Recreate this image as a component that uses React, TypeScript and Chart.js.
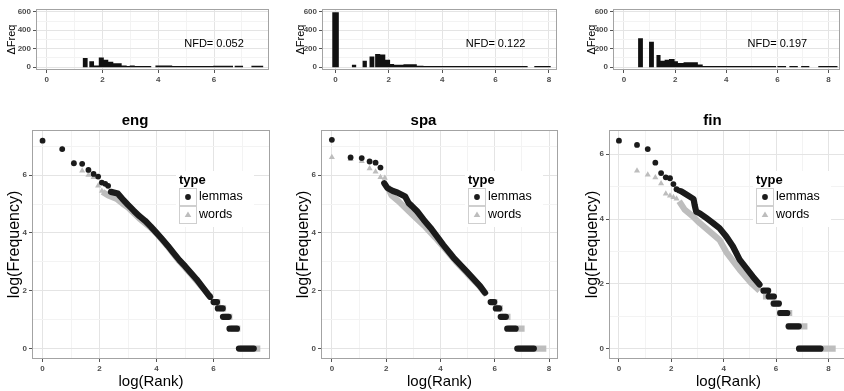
import React, { useEffect, useRef } from "react";
import { Chart, registerables } from "chart.js";

Chart.register(...registerables);

const FONT = "'Liberation Sans', Arial, Helvetica, sans-serif";
Chart.defaults.font.family = FONT;

// ---------------- tick values ----------------
const rankTicks = [0, 1, 2, 3, 4, 5, 6, 7, 8];
const freqTicks = [0, 1, 2, 3, 4, 5, 6, 7];
const deltaTicks = [0, 100, 200, 300, 400, 500, 600];

// ---------------- labels ----------------
const languages = ["eng", "spa", "fin"];
const nfdLabels = ["NFD= 0.052", "NFD= 0.122", "NFD= 0.197"];
const seriesNames = ["lemmas", "words"];
const legendTitle = "type";

// ---------------- top panels: ΔFreq bins (start, end, height) ----------------
const engBinStart = [1.29, 1.53, 1.7, 1.87, 2.05, 2.21, 2.39, 2.69, 2.87, 2.98, 3.16, 3.9, 4.5, 5.1, 5.97, 6.74, 7.34];
const engBinEnd = [1.47, 1.7, 1.87, 2.05, 2.21, 2.39, 2.69, 2.87, 2.98, 3.16, 3.75, 4.5, 5.1, 5.97, 6.68, 7.04, 7.77];
const engDelta = [100, 66, 20, 106, 80, 58, 42, 18, 12, 20, 12, 18, 14, 14, 16, 16, 16];

const spaBinStart = [-0.12, 0.62, 1.02, 1.28, 1.49, 1.68, 1.87, 2.05, 2.2, 2.55, 3.05, 3.3, 4.17, 5.3, 7.45];
const spaBinEnd = [0.13, 0.78, 1.18, 1.46, 1.68, 1.87, 2.05, 2.2, 2.55, 3.05, 3.3, 4.17, 5.3, 7.2, 8.07];
const spaDelta = [595, 28, 71, 117, 142, 137, 82, 36, 26, 32, 17, 14, 14, 14, 14];

const finBinStart = [0.55, 0.98, 1.27, 1.43, 1.59, 1.76, 1.98, 2.11, 2.33, 2.89, 3.08, 3.86, 5.0, 6.0, 6.47, 6.93, 7.6];
const finBinEnd = [0.74, 1.17, 1.43, 1.59, 1.76, 1.98, 2.11, 2.33, 2.89, 3.08, 3.86, 5.0, 5.95, 6.34, 6.8, 7.25, 8.36];
const finDelta = [313, 277, 132, 71, 82, 89, 64, 47, 55, 29, 14, 14, 14, 14, 14, 14, 14];

// ---------------- bottom panels: log(Rank) vs log(Frequency) ----------------
// isolated points
const engLemmaX = [0, 0.69, 1.1, 1.39, 1.61, 1.79, 1.95, 2.08, 2.2, 2.3];
const engLemmaY = [7.19, 6.9, 6.41, 6.39, 6.18, 6.04, 5.95, 5.74, 5.7, 5.63];
const engWordX = [0, 0.69, 1.1, 1.39, 1.61, 1.79, 1.95, 2.08];
const engWordY = [7.19, 6.9, 6.41, 6.15, 6.0, 5.93, 5.63, 5.45];
// dense runs of points (null = break)
const engLemmaRunX = [2.4, 2.64, 2.8, 3.0, 3.2, 3.4, 3.6, 3.8, 4.0, 4.2, 4.4, 4.6, 4.8, 5.0, 5.2, 5.4, 5.6, 5.8, 5.88, null, 6.0, 6.12, null, 6.15, 6.32, null, 6.33, 6.53, null, 6.56, 6.82, null, 6.89, 7.41];
const engLemmaRunY = [5.42, 5.36, 5.18, 4.97, 4.77, 4.58, 4.42, 4.22, 4.0, 3.78, 3.55, 3.3, 3.06, 2.85, 2.62, 2.4, 2.14, 1.88, 1.79, null, 1.61, 1.61, null, 1.39, 1.39, null, 1.1, 1.1, null, 0.69, 0.69, null, 0, 0];
const engWordRunX = [2.1, 2.3, 2.6, 2.8, 3.0, 3.4, 3.8, 4.0, 4.4, 4.8, 5.2, 5.6, 5.9, null, 6.02, 6.24, null, 6.2, 6.44, null, 6.38, 6.66, null, 6.6, 6.94, null, 6.92, 7.64];
const engWordRunY = [5.42, 5.3, 5.18, 5.02, 4.88, 4.5, 4.18, 3.98, 3.52, 3.02, 2.58, 2.12, 1.79, null, 1.61, 1.61, null, 1.39, 1.39, null, 1.1, 1.1, null, 0.69, 0.69, null, 0, 0];

const spaLemmaX = [0, 0.69, 1.1, 1.39, 1.61, 1.79];
const spaLemmaY = [7.22, 6.61, 6.59, 6.47, 6.43, 6.26];
const spaWordX = [0, 0.69, 1.1, 1.39, 1.61, 1.79, 1.95];
const spaWordY = [6.62, 6.55, 6.48, 6.23, 6.12, 5.93, 5.9];
const spaLemmaRunX = [1.93, 2.05, 2.25, 2.41, 2.7, 2.83, 2.96, 3.14, 3.38, 3.63, 3.87, 4.11, 4.48, 4.97, 5.46, 5.64, null, 5.85, 5.98, null, 6.04, 6.16, null, 6.22, 6.41, null, 6.46, 6.77, null, 6.83, 7.44];
const spaLemmaRunY = [5.72, 5.55, 5.45, 5.4, 5.26, 5.03, 4.92, 4.75, 4.46, 4.18, 3.88, 3.58, 3.15, 2.66, 2.16, 1.93, null, 1.61, 1.61, null, 1.39, 1.39, null, 1.1, 1.1, null, 0.69, 0.69, null, 0, 0];
const spaWordRunX = [2.05, 2.2, 2.45, 2.8, 3.0, 3.4, 3.8, 4.2, 4.6, 5.0, 5.4, 5.7, null, 5.88, 6.1, null, 6.06, 6.3, null, 6.26, 6.58, null, 6.5, 7.1, null, 6.86, 7.9];
const spaWordRunY = [5.6, 5.3, 5.1, 4.78, 4.6, 4.25, 3.85, 3.42, 2.98, 2.58, 2.2, 1.85, null, 1.61, 1.61, null, 1.39, 1.39, null, 1.1, 1.1, null, 0.69, 0.69, null, 0, 0];

const finLemmaX = [0, 0.69, 1.1, 1.39, 1.61, 1.79, 1.95, 2.08, 2.2, 2.3];
const finLemmaY = [6.42, 6.29, 6.16, 5.74, 5.42, 5.29, 5.26, 5.08, 4.92, 4.88];
const finWordX = [0, 0.69, 1.1, 1.39, 1.61, 1.79, 1.95, 2.08, 2.2];
const finWordY = [6.42, 5.49, 5.37, 5.28, 5.1, 4.78, 4.72, 4.67, 4.63];
const finLemmaRunX = [2.4, 2.6, 2.85, 2.89, 2.95, 3.08, 3.34, 3.59, 3.84, 4.1, 4.35, 4.61, 5.11, 5.37, null, 5.52, 5.7, null, 5.72, 5.92, null, 5.91, 6.11, null, 6.16, 6.43, null, 6.48, 6.87, null, 6.88, 7.7];
const finLemmaRunY = [4.85, 4.75, 4.62, 4.44, 4.23, 4.18, 4.03, 3.88, 3.72, 3.46, 3.16, 2.75, 2.23, 1.98, null, 1.79, 1.79, null, 1.61, 1.61, null, 1.39, 1.39, null, 1.1, 1.1, null, 0.69, 0.69, null, 0, 0];
const finWordRunX = [2.3, 2.51, 2.83, 3.08, 3.46, 3.84, 4.1, 4.61, 5.05, 5.37, null, 5.5, 5.98, null, 5.8, 6.2, null, 6.05, 6.62, null, 6.4, 7.2, null, 6.8, 8.28];
const finWordRunY = [4.55, 4.29, 4.08, 3.88, 3.62, 3.36, 2.98, 2.44, 2.03, 1.79, null, 1.61, 1.61, null, 1.39, 1.39, null, 1.1, 1.1, null, 0.69, 0.69, null, 0, 0];

// ---------------- assembly ----------------
const topBins = [
  { start: engBinStart, end: engBinEnd, val: engDelta },
  { start: spaBinStart, end: spaBinEnd, val: spaDelta },
  { start: finBinStart, end: finBinEnd, val: finDelta },
];
const bottomSeries = [
  { lx: engLemmaX, ly: engLemmaY, lrx: engLemmaRunX, lry: engLemmaRunY, wx: engWordX, wy: engWordY, wrx: engWordRunX, wry: engWordRunY },
  { lx: spaLemmaX, ly: spaLemmaY, lrx: spaLemmaRunX, lry: spaLemmaRunY, wx: spaWordX, wy: spaWordY, wrx: spaWordRunX, wry: spaWordRunY },
  { lx: finLemmaX, ly: finLemmaY, lrx: finLemmaRunX, lry: finLemmaRunY, wx: finWordX, wy: finWordY, wrx: finWordRunX, wry: finWordRunY },
];

// layout (pixels)
const TOP = [
  { left: 0, chartLeft: 36, chartRight: 269, xmin: -0.38, xmax: 7.97, titlePad: 5.5 },
  { left: 286, chartLeft: 322, chartRight: 557, xmin: -0.5, xmax: 8.3, titlePad: 8 },
  { left: 577, chartLeft: 613, chartRight: 840, xmin: -0.43, xmax: 8.45, titlePad: 8 },
];
const BOTTOM = [
  { left: 0, chartLeft: 32, chartRight: 270, xmin: -0.37, xmax: 7.98, ymin: -0.36, ymax: 7.56, titlePad: 4.9 },
  { left: 289, chartLeft: 321, chartRight: 558, xmin: -0.4, xmax: 8.33, ymin: -0.36, ymax: 7.56, titlePad: 5.4 },
  { left: 577, chartLeft: 609, chartRight: 848, xmin: -0.38, xmax: 8.75, ymin: -0.32, ymax: 6.75, titlePad: 5.9 },
];

const LEMMA_COLOR = "#1b1b1b";
const WORD_COLOR = "#bdbdbd";

function makeScale(o: any) {
  const isMajor = (v: number) => v % o.majorStep === 0;
  return {
    type: "linear",
    min: o.min,
    max: o.max,
    afterBuildTicks: (s: any) => {
      s.ticks = o.values.filter((v: number) => v >= o.min && v <= o.max).map((v: number) => ({ value: v }));
    },
    afterFit: (s: any) => {
      if (o.horizontal) s.height = o.size;
      else s.width = o.size;
    },
    grid: {
      color: (c: any) => (c.tick && isMajor(c.tick.value) ? "#e4e4e4" : "#f3f3f3"),
      tickColor: (c: any) => (c.tick && isMajor(c.tick.value) ? "#555555" : "rgba(0,0,0,0)"),
      lineWidth: 1,
      tickLength: 3,
      tickWidth: 1,
      drawTicks: true,
    },
    border: { display: false },
    ticks: {
      autoSkip: false,
      maxRotation: 0,
      minRotation: 0,
      padding: 2,
      color: "#4d4d4d",
      font: { size: 8, weight: "bold", family: FONT },
      callback: (v: number) => (isMajor(v) ? String(v) : ""),
    },
    title: o.title
      ? {
          display: true,
          text: o.title,
          color: "#000",
          font: { size: o.titleSize, family: FONT },
          padding: { top: o.titlePad || 0, bottom: 0 },
        }
      : { display: false },
  };
}

const ggDecor = {
  id: "ggDecor",
  afterDraw(chart: any, _args: any, opts: any) {
    const { ctx, chartArea: a, scales } = chart;
    ctx.save();
    // panel border
    ctx.strokeStyle = "#a3a3a3";
    ctx.lineWidth = 1;
    ctx.strokeRect(Math.round(a.left) + 0.5, Math.round(a.top) + 0.5, Math.round(a.right - a.left) - 1, Math.round(a.bottom - a.top) - 1);
    // NFD annotation
    if (opts && opts.nfd) {
      ctx.fillStyle = "#000";
      ctx.font = `11px ${FONT}`;
      ctx.textAlign = "center";
      ctx.textBaseline = "middle";
      ctx.fillText(opts.nfd, scales.x.getPixelForValue(opts.nfdX), scales.y.getPixelForValue(opts.nfdY));
    }
    // ggplot-style legend inside the panel
    if (opts && opts.legend) {
      const x0 = a.left + 147;
      const y0 = a.top;
      ctx.fillStyle = "#ffffff";
      ctx.fillRect(x0 - 3, y0 + 41, 78, 56);
      ctx.fillStyle = "#000";
      ctx.font = `bold 13px ${FONT}`;
      ctx.textAlign = "left";
      ctx.textBaseline = "middle";
      ctx.fillText(opts.legend.title, x0, y0 + 50);
      opts.legend.items.forEach((k: any, j: number) => {
        const by = Math.round(y0 + 58 + j * 18);
        ctx.strokeStyle = "#cfcfcf";
        ctx.lineWidth = 1;
        ctx.strokeRect(x0 + 0.5, by + 0.5, 17, 17);
        const cx = x0 + 9;
        const cy = by + 9;
        ctx.fillStyle = k.color;
        ctx.beginPath();
        if (k.style === "circle") {
          ctx.arc(cx, cy, 2.9, 0, Math.PI * 2);
        } else {
          const r = 3.5;
          ctx.moveTo(cx, cy - r);
          ctx.lineTo(cx + r * 0.95, cy + r * 0.6);
          ctx.lineTo(cx - r * 0.95, cy + r * 0.6);
          ctx.closePath();
        }
        ctx.fill();
        ctx.fillStyle = "#000";
        ctx.font = `12.5px ${FONT}`;
        ctx.fillText(k.label, x0 + 20, cy);
      });
    }
    ctx.restore();
  },
};

function toPoints(xs: (number | null)[], ys: (number | null)[]) {
  const out: any[] = [];
  let lastX = 0;
  for (let i = 0; i < xs.length; i++) {
    const x = xs[i] === null ? lastX : (xs[i] as number);
    lastX = x;
    out.push({ x, y: ys[i] });
  }
  return out;
}

function topConfig(i: number) {
  const L = TOP[i];
  const b = topBins[i];
  const pts: any[] = [];
  for (let k = 0; k < b.start.length; k++) {
    pts.push({ x: b.start[k], y: 0 }, { x: b.start[k], y: b.val[k] }, { x: b.end[k], y: b.val[k] }, { x: b.end[k], y: 0 });
  }
  return {
    type: "line",
    data: {
      datasets: [
        {
          label: "ΔFreq",
          data: pts,
          fill: "origin",
          backgroundColor: "#111111",
          borderColor: "rgba(0,0,0,0)",
          borderWidth: 0,
          pointRadius: 0,
          pointHoverRadius: 0,
          tension: 0,
        },
      ],
    },
    options: {
      responsive: false,
      maintainAspectRatio: false,
      animation: false,
      events: [],
      layout: { padding: { top: 9, right: 10, left: 0, bottom: 0 } },
      plugins: {
        legend: { display: false },
        tooltip: { enabled: false },
        title: { display: false },
        ggDecor: { nfd: nfdLabels[i], nfdX: 6, nfdY: 250 },
      },
      scales: {
        x: makeScale({ min: L.xmin, max: L.xmax, values: rankTicks, majorStep: 2, horizontal: true, size: 20 }),
        y: makeScale({ min: -30, max: 630, values: deltaTicks, majorStep: 200, horizontal: false, size: L.chartLeft - L.left, title: "ΔFreq", titleSize: 11, titlePad: L.titlePad }),
      },
    },
    plugins: [ggDecor],
  };
}

function bottomConfig(i: number) {
  const L = BOTTOM[i];
  const s = bottomSeries[i];
  return {
    type: "line",
    data: {
      datasets: [
        {
          label: seriesNames[0],
          data: toPoints(s.lx, s.ly),
          showLine: false,
          pointStyle: "circle",
          pointRadius: 2.9,
          pointHoverRadius: 2.9,
          pointBackgroundColor: LEMMA_COLOR,
          pointBorderWidth: 0,
          order: 0,
        },
        {
          label: seriesNames[0],
          data: toPoints(s.lrx, s.lry),
          showLine: true,
          spanGaps: false,
          fill: false,
          borderColor: LEMMA_COLOR,
          borderWidth: 6.2,
          borderCapStyle: "round",
          borderJoinStyle: "round",
          pointRadius: 0,
          pointHoverRadius: 0,
          tension: 0,
          order: 0,
        },
        {
          label: seriesNames[1],
          data: toPoints(s.wx, s.wy),
          showLine: false,
          pointStyle: "triangle",
          pointRadius: 3.5,
          pointHoverRadius: 3.5,
          pointBackgroundColor: WORD_COLOR,
          pointBorderWidth: 0,
          order: 1,
        },
        {
          label: seriesNames[1],
          data: toPoints(s.wrx, s.wry),
          showLine: true,
          spanGaps: false,
          fill: false,
          borderColor: WORD_COLOR,
          borderWidth: 6.2,
          borderCapStyle: "butt",
          borderJoinStyle: "round",
          pointRadius: 0,
          pointHoverRadius: 0,
          tension: 0,
          order: 1,
        },
      ],
    },
    options: {
      responsive: false,
      maintainAspectRatio: false,
      animation: false,
      events: [],
      layout: { padding: { top: 0, right: 10, left: 0, bottom: 0 } },
      plugins: {
        legend: { display: false },
        tooltip: { enabled: false },
        title: {
          display: true,
          text: languages[i],
          color: "#000",
          font: { size: 15, weight: "bold", family: FONT },
          padding: { top: 12, bottom: 0 },
        },
        ggDecor: {
          legend: {
            title: legendTitle,
            items: [
              { label: seriesNames[0], color: LEMMA_COLOR, style: "circle" },
              { label: seriesNames[1], color: WORD_COLOR, style: "triangle" },
            ],
          },
        },
      },
      scales: {
        x: makeScale({ min: L.xmin, max: L.xmax, values: rankTicks, majorStep: 2, horizontal: true, size: 32, title: "log(Rank)", titleSize: 15, titlePad: 0 }),
        y: makeScale({ min: L.ymin, max: L.ymax, values: freqTicks, majorStep: 2, horizontal: false, size: L.chartLeft - L.left, title: "log(Frequency)", titleSize: 16, titlePad: L.titlePad }),
      },
    },
    plugins: [ggDecor],
  };
}

function ChartCanvas(props: { left: number; top: number; width: number; height: number; build: () => any }) {
  const ref = useRef<HTMLCanvasElement>(null);
  useEffect(() => {
    const chart = new Chart(ref.current as HTMLCanvasElement, props.build());
    return () => chart.destroy();
  }, []);
  return (
    <canvas
      ref={ref}
      width={props.width}
      height={props.height}
      style={{ position: "absolute", left: props.left, top: props.top, width: props.width, height: props.height }}
    />
  );
}

export default function App() {
  return (
    <div style={{ position: "absolute", left: 0, top: 0, width: 844, height: 391, overflow: "hidden", background: "#ffffff" }}>
      {TOP.map((L, i) => (
        <ChartCanvas key={"top" + i} left={L.left} top={0} width={L.chartRight + 10 - L.left} height={90} build={() => topConfig(i)} />
      ))}
      {BOTTOM.map((L, i) => (
        <ChartCanvas key={"bot" + i} left={L.left} top={100} width={L.chartRight + 10 - L.left} height={291} build={() => bottomConfig(i)} />
      ))}
    </div>
  );
}
